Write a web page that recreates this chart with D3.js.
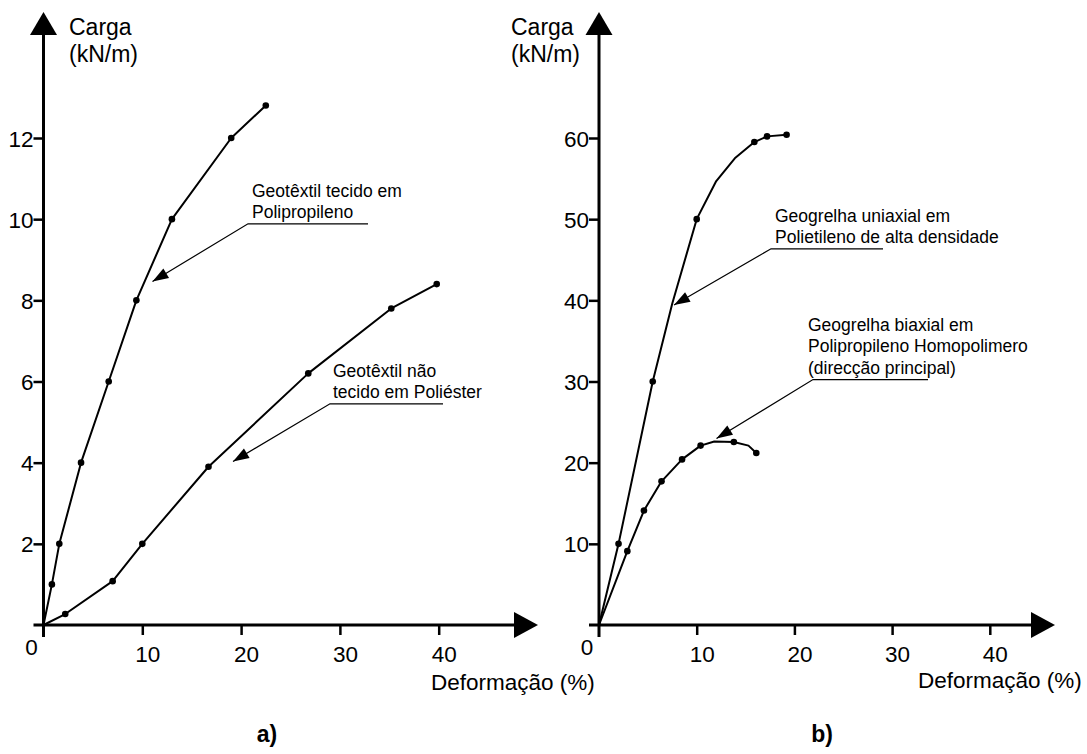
<!DOCTYPE html>
<html><head><meta charset="utf-8">
<script src="https://cdn.jsdelivr.net/npm/d3@7"></script>
<style>
html,body{margin:0;padding:0;background:#fff;}
svg{display:block;font-family:"Liberation Sans",Arial,Helvetica,sans-serif;}
</style></head>
<body>
<svg id="chart" width="1087" height="754"></svg>
<script>
// ---------- DATA ----------
// Panel a)
const aXTicks = [10, 20, 30, 40];
const aYTicks = [2, 4, 6, 8, 10, 12];
const wovenPPStrain = [0, 0.85, 1.6, 3.8, 6.6, 9.4, 13, 19, 22.5];
const wovenPPLoad   = [0, 1, 2, 4, 6, 8, 10, 12, 12.8];
const nonwovenPETStrain = [0, 2.2, 7, 10, 16.7, 26.8, 35.2, 39.8];
const nonwovenPETLoad   = [0, 0.27, 1.08, 2, 3.9, 6.2, 7.8, 8.4];
// Panel b)
const bXTicks = [10, 20, 30, 40];
const bYTicks = [10, 20, 30, 40, 50, 60];
const uniaxialStrain = [0, 2, 5.5, 7.5, 10, 12, 13.9, 15.9, 17.2, 19.2];
const uniaxialLoad   = [0, 10, 30, 39.6, 50, 54.7, 57.5, 59.5, 60.2, 60.4];
const uniaxialMarked = [0, 1, 1, 0, 1, 0, 0, 1, 1, 1];
const biaxialStrain = [0, 2.9, 4.6, 6.4, 8.5, 10.4, 11.8, 13.8, 15.3, 16.1];
const biaxialLoad   = [0, 9.1, 14.1, 17.7, 20.4, 22.1, 22.6, 22.55, 22.1, 21.2];
const biaxialMarked = [0, 1, 1, 1, 1, 1, 0, 1, 0, 1];

const yTitle = ["Carga", "(kN/m)"];
const xTitle = "Deformação (%)";
const annA1 = ["Geotêxtil tecido em", "Polipropileno"];
const annA2 = ["Geotêxtil não", "tecido em Poliéster"];
const annB1 = ["Geogrelha uniaxial em", "Polietileno de alta densidade"];
const annB2 = ["Geogrelha biaxial em", "Polipropileno Homopolimero", "(direcção principal)"];

// ---------- DRAW ----------
const svg = d3.select("#chart");

function panel(cfg) {
  const g = svg.append("g");
  const x = d3.scaleLinear().domain([0, cfg.xMax]).range([cfg.x0, cfg.x1]);
  const y = d3.scaleLinear().domain([0, cfg.yMax]).range([625, 138]);
  const X0 = x(0), Y0 = y(0);
  const xEnd = cfg.arrowTipX;

  // x axis ticks + labels
  const ax = g.append("g").attr("transform", `translate(0,${Y0})`)
    .call(d3.axisBottom(x).tickValues(cfg.xTicks).tickSize(10).tickSizeOuter(0));
  ax.select(".domain").remove();
  ax.selectAll(".tick line").attr("stroke", "#000").attr("stroke-width", 2.5);
  ax.selectAll(".tick text").attr("fill", "#000").attr("font-size", 22.5)
    .attr("font-family", "Liberation Sans, Arial, sans-serif")
    .attr("dy", null).attr("y", 37).attr("x", 5);

  // y axis ticks + labels
  const ay = g.append("g").attr("transform", `translate(${X0},0)`)
    .call(d3.axisLeft(y).tickValues(cfg.yTicks).tickSize(10).tickSizeOuter(0));
  ay.select(".domain").remove();
  ay.selectAll(".tick line").attr("stroke", "#000").attr("stroke-width", 2.5);
  ay.selectAll(".tick text").attr("fill", "#000").attr("font-size", 22.5)
    .attr("font-family", "Liberation Sans, Arial, sans-serif")
    .attr("x", -10).attr("dy", "0.36em");

  // axes lines
  g.append("line").attr("x1", X0 - 10).attr("x2", xEnd - 22).attr("y1", Y0).attr("y2", Y0)
    .attr("stroke", "#000").attr("stroke-width", 3);
  g.append("line").attr("x1", X0).attr("x2", X0).attr("y1", Y0 + 12).attr("y2", 33)
    .attr("stroke", "#000").attr("stroke-width", 3);
  // arrowheads
  g.append("path").attr("d", `M${xEnd},${Y0} L${xEnd - 24},${Y0 - 13} L${xEnd - 24},${Y0 + 13} Z`).attr("fill", "#000");
  g.append("path").attr("d", `M${X0},12 L${X0 - 13.5},35 L${X0 + 13.5},35 Z`).attr("fill", "#000");

  // zero label
  g.append("text").attr("x", X0 - 12).attr("y", 655).attr("text-anchor", "middle")
    .attr("font-size", 22.5).text("0");

  // titles
  const ty = g.append("text").attr("x", cfg.titleX).attr("font-size", 23);
  ty.append("tspan").attr("x", cfg.titleX).attr("y", 35).text(yTitle[0]);
  ty.append("tspan").attr("x", cfg.titleX).attr("y", 62).text(yTitle[1]);
  g.append("text").attr("x", cfg.xTitleX).attr("y", cfg.xTitleY).attr("font-size", 22.5).text(xTitle);
  g.append("text").attr("x", cfg.labelX).attr("y", 742).attr("text-anchor", "middle")
    .attr("font-size", 23).attr("font-weight", "bold").text(cfg.label);

  // series
  const line = d3.line().x(d => x(d[0])).y(d => y(d[1]));
  cfg.series.forEach(s => {
    const pts = s.xs.map((v, i) => [v, s.ys[i], s.marked ? s.marked[i] : (i > 0 ? 1 : 0)]);
    g.append("path").datum(pts).attr("d", line).attr("fill", "none")
      .attr("stroke", "#000").attr("stroke-width", 2).attr("stroke-linejoin", "round");
    g.selectAll(null).data(pts.filter(p => p[2])).enter().append("circle")
      .attr("cx", d => x(d[0])).attr("cy", d => y(d[1])).attr("r", 3.3).attr("fill", "#000");
  });

  // annotations
  cfg.notes.forEach(n => {
    const t = g.append("text").attr("font-size", 17.5);
    n.lines.forEach((l, i) => t.append("tspan").attr("x", n.tx).attr("y", n.ty + i * 21.3).text(l));
    const uy = n.ty + (n.lines.length - 1) * 21.3 + 6;
    g.append("path").attr("d", `M${n.tx + n.ulEnd},${uy} L${n.sx},${uy} L${n.ax},${n.ay}`)
      .attr("fill", "none").attr("stroke", "#000").attr("stroke-width", 1.2);
    const ang = Math.atan2(n.ay - uy, n.ax - n.sx);
    const L = 16, W = 5.5;
    const bx = n.ax - L * Math.cos(ang), by = n.ay - L * Math.sin(ang);
    const px = -Math.sin(ang) * W, py = Math.cos(ang) * W;
    g.append("path").attr("d", `M${n.ax},${n.ay} L${bx + px},${by + py} L${bx - px},${by - py} Z`).attr("fill", "#000");
  });
}

panel({
  x0: 43.5, x1: 43.5 + 98.8 * 5, xMax: 50, yMax: 12, arrowTipX: 538,
  xTicks: aXTicks, yTicks: aYTicks, titleX: 69, xTitleX: 431, xTitleY: 690,
  label: "a)", labelX: 267,
  series: [
    {xs: wovenPPStrain, ys: wovenPPLoad},
    {xs: nonwovenPETStrain, ys: nonwovenPETLoad}
  ],
  notes: [
    {lines: annA1, tx: 252, ty: 196.5, sx: 248, ax: 152.5, ay: 281.5, ulEnd: 116},
    {lines: annA2, tx: 333, ty: 376.5, sx: 330, ax: 233, ay: 461.5, ulEnd: 110}
  ]
});

panel({
  x0: 599, x1: 599 + 97.7 * 5, xMax: 50, yMax: 60, arrowTipX: 1055,
  xTicks: bXTicks, yTicks: bYTicks, titleX: 511, xTitleX: 918, xTitleY: 688,
  label: "b)", labelX: 822,
  series: [
    {xs: uniaxialStrain, ys: uniaxialLoad, marked: uniaxialMarked},
    {xs: biaxialStrain, ys: biaxialLoad, marked: biaxialMarked}
  ],
  notes: [
    {lines: annB1, tx: 775, ty: 221.5, sx: 771, ax: 674, ay: 305, ulEnd: 108},
    {lines: annB2, tx: 808, ty: 331, sx: 813, ax: 716.5, ay: 438.5, ulEnd: 120}
  ]
});
</script>
</body></html>
